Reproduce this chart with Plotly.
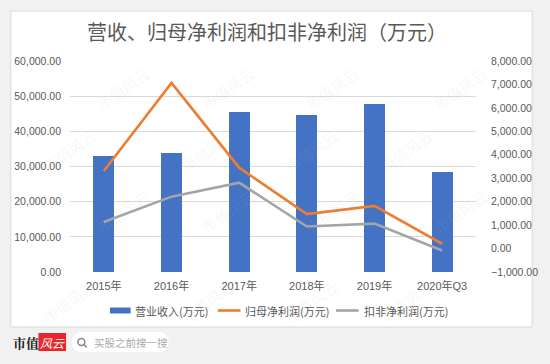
import plotly.graph_objects as go

categories = ["2015年", "2016年", "2017年", "2018年", "2019年", "2020年Q3"]
revenue = [33000, 33900, 45450, 44700, 47650, 28550]
net_profit = [3310, 7065, 3450, 1470, 1820, 205]
deducted_profit = [1130, 2215, 2810, 940, 1065, -80]

legend_labels = ["营业收入(万元)", "归母净利润(万元)", "扣非净利润(万元)"]
title_text = "营收、归母净利润和扣非净利润（万元）"

W, H = 550, 364
L, R, T, B = 70, 68, 61, 92
PW, PH = W - L - R, H - T - B


def px(x):
    return (x - L) / PW


def py(y):
    return (H - B - y) / PH


BLUE = "#4472C4"
ORANGE = "#ED7D31"
GRAY = "#A5A5A5"
TXT = "#595959"
FONT = "Liberation Sans, Noto Sans CJK SC"

fig = go.Figure()
fig.add_trace(go.Bar(x=categories, y=revenue, name=legend_labels[0],
                     marker=dict(color=BLUE, line=dict(width=0)), width=0.31,
                     showlegend=False))
fig.add_trace(go.Scatter(x=categories, y=net_profit, name=legend_labels[1], yaxis="y2",
                         mode="lines", line=dict(color=ORANGE, width=2.6), showlegend=False))
fig.add_trace(go.Scatter(x=categories, y=deducted_profit, name=legend_labels[2], yaxis="y2",
                         mode="lines", line=dict(color=GRAY, width=2.6), showlegend=False))

shapes = []
annotations = []

# outer white panel
shapes.append(dict(type="rect", xref="paper", yref="paper", layer="below",
                   x0=px(10), x1=px(539), y0=py(327), y1=py(11),
                   fillcolor="white", line=dict(color="#d9d9d9", width=1)))

# watermark (kept inside the picture)
for row, yy in enumerate([60, 150, 240, 330]):
    for xx in [90, 230, 370, 500]:
        xoff = xx - (row % 2) * 55
        annotations.append(dict(text="市值风云", xref="paper", yref="paper",
                                x=px(xoff), y=py(yy), showarrow=False, textangle=-35,
                                font=dict(size=15, color="rgba(180,180,180,0.11)", family="Noto Sans CJK SC")))

# title
annotations.append(dict(text=title_text, xref="paper", yref="paper", x=px(270), y=py(31),
                        showarrow=False, xanchor="center", yanchor="middle",
                        font=dict(size=20, color=TXT, family="Noto Sans CJK SC")))

# manual legend
ly = 310.5
shapes.append(dict(type="rect", xref="paper", yref="paper", x0=px(110.5), x1=px(131.5),
                   y0=py(ly + 3), y1=py(ly - 3), fillcolor=BLUE, line=dict(width=0)))
shapes.append(dict(type="line", xref="paper", yref="paper", x0=px(220), x1=px(243),
                   y0=py(ly), y1=py(ly), line=dict(color=ORANGE, width=2.6)))
shapes.append(dict(type="line", xref="paper", yref="paper", x0=px(340), x1=px(363),
                   y0=py(ly), y1=py(ly), line=dict(color=GRAY, width=2.6)))
for lx, lab in zip([134, 246, 366], legend_labels):
    annotations.append(dict(text=lab, xref="paper", yref="paper", x=px(lx), y=py(ly),
                            showarrow=False, xanchor="left", yanchor="middle",
                            font=dict(size=11, color=TXT, family="Noto Sans CJK SC")))

# bottom branding
annotations.append(dict(text="<b>市值</b>", xref="paper", yref="paper", x=px(10), y=py(342),
                        showarrow=False, xanchor="left", yanchor="middle",
                        font=dict(size=13, color="#222222", family="Noto Serif CJK SC, Noto Sans CJK SC")))
shapes.append(dict(type="rect", xref="paper", yref="paper", x0=px(38), x1=px(66),
                   y0=py(351), y1=py(333), fillcolor="#e8262b", line=dict(width=0)))
annotations.append(dict(text="<i>风云</i>", xref="paper", yref="paper", x=px(52), y=py(342),
                        showarrow=False, xanchor="center", yanchor="middle",
                        font=dict(size=12, color="white", family="Noto Sans CJK SC")))


def rounded_path(x0, y0, x1, y1, r):
    pts = [
        ("M", x0 + r, y0), ("L", x1 - r, y0), ("Q", x1, y0, x1, y0 + r),
        ("L", x1, y1 - r), ("Q", x1, y1, x1 - r, y1), ("L", x0 + r, y1),
        ("Q", x0, y1, x0, y1 - r), ("L", x0, y0 + r), ("Q", x0, y0, x0 + r, y0),
    ]
    s = ""
    for p in pts:
        cmd = p[0]
        coords = p[1:]
        conv = []
        for i in range(0, len(coords), 2):
            conv.append(f"{px(coords[i]):.5f},{py(coords[i + 1]):.5f}")
        s += cmd + " " + " ".join(conv) + " "
    return s + "Z"


shapes.append(dict(type="path", xref="paper", yref="paper",
                   path=rounded_path(72, 332, 170, 352, 10),
                   fillcolor="white", line=dict(width=0)))
shapes.append(dict(type="circle", xref="paper", yref="paper", x0=px(78), x1=px(85),
                   y0=py(345.5), y1=py(338.5), line=dict(color="#888888", width=1.5)))
shapes.append(dict(type="line", xref="paper", yref="paper", x0=px(84), x1=px(87),
                   y0=py(344.5), y1=py(347.5), line=dict(color="#888888", width=1.5)))
annotations.append(dict(text="买股之前搜一搜", xref="paper", yref="paper", x=px(92), y=py(342),
                        showarrow=False, xanchor="left", yanchor="middle",
                        font=dict(size=10.5, color="#aaaaaa", family="Noto Sans CJK SC")))

fig.update_layout(
    width=W, height=H,
    margin=dict(l=L, r=R, t=T, b=B, pad=0),
    paper_bgcolor="#f1f1f1", plot_bgcolor="rgba(0,0,0,0)",
    font=dict(family=FONT, color=TXT, size=10.5),
    bargap=0,
    shapes=shapes, annotations=annotations,
    xaxis=dict(showgrid=False, zeroline=False, showline=False, ticks="",
               tickfont=dict(size=11, color=TXT, family=FONT), ticklabelstandoff=6),
    yaxis=dict(range=[0, 60000], dtick=10000, tickformat=",.2f",
               showgrid=True, gridcolor="#d9d9d9", gridwidth=1, zeroline=False,
               showline=False, ticks="", ticklabelstandoff=8,
               tickfont=dict(size=10.5, color=TXT)),
    yaxis2=dict(range=[-1000, 8000], dtick=1000, tickformat=",.2f", overlaying="y",
                side="right", showgrid=False, zeroline=False, showline=False, ticks="",
                ticklabelstandoff=14, tickfont=dict(size=10.5, color=TXT)),
)

fig.write_html("out.html", config={"displayModeBar": False},
               post_script="document.body.style.margin='0';document.body.style.padding='0';document.body.style.overflow='hidden';")
